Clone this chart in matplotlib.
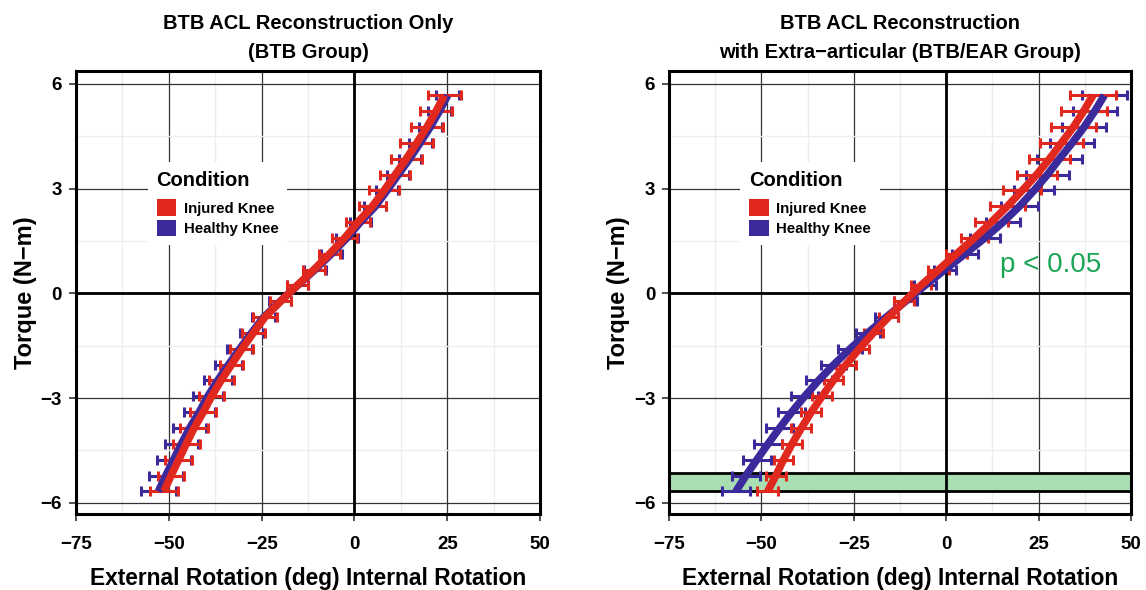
import numpy as np
import matplotlib.pyplot as plt
from matplotlib.patches import Patch

plt.rcParams['font.family'] = ['Liberation Sans', 'DejaVu Sans']
plt.rcParams['font.weight'] = 'bold'
plt.rcParams['axes.titleweight'] = 'bold'
plt.rcParams['axes.labelweight'] = 'bold'

# Torque levels (N-m), shared by both panels
torque = [5.67, 5.22, 4.76, 4.31, 3.86, 3.40, 2.95, 2.49, 2.04, 1.59, 1.13, 0.68, 0.23,
          -0.23, -0.68, -1.13, -1.59, -2.04, -2.49, -2.95, -3.40, -3.86, -4.31, -4.76, -5.22, -5.67]

# BTB group (left panel)
btb_injured = [24.2, 22.0, 19.5, 16.8, 14.0, 11.0, 8.0, 4.8, 0.9, -2.6, -6.7, -10.9, -15.4,
               -19.9, -24.1, -27.2, -30.3, -33.1, -35.9, -38.5, -40.7, -43.2, -45.3, -47.3, -49.4, -51.3]
btb_injured_err = [4.5, 4.4, 4.4, 4.4, 4.1, 4.0, 4.0, 3.6, 3.3, 3.4, 2.9, 3.0, 2.9,
                   2.9, 3.2, 3.2, 3.1, 3.2, 3.4, 3.4, 3.5, 3.7, 3.6, 3.6, 3.6, 3.7]
btb_healthy = [25.1, 22.9, 20.4, 17.7, 14.9, 11.8, 8.8, 5.6, 1.6, -2.0, -6.2, -10.6, -15.3,
               -20.0, -24.4, -27.7, -30.9, -33.9, -36.8, -39.5, -41.8, -44.4, -46.6, -48.7, -50.8, -52.8]
btb_healthy_err = [3.1, 3.1, 3.1, 3.1, 3.0, 3.0, 3.0, 3.0, 2.9, 2.9, 2.9, 2.9, 2.9,
                   3.0, 3.1, 3.2, 3.4, 3.6, 3.8, 4.0, 4.2, 4.4, 4.5, 4.6, 4.6, 4.7]

# BTB/EAR group (right panel)
ear_injured = [39.7, 37.2, 34.4, 31.2, 28.0, 24.5, 20.6, 16.5, 12.2, 7.7, 2.8, -2.0, -6.8,
               -11.3, -15.6, -19.7, -23.5, -27.1, -30.5, -33.6, -36.5, -39.2, -41.7, -44.0, -46.1, -48.3]
ear_injured_err = [6.3, 6.2, 6.1, 5.9, 5.6, 5.4, 5.1, 4.7, 4.4, 3.7, 2.9, 2.8, 2.7,
                   2.7, 2.6, 2.6, 2.6, 2.6, 2.6, 2.6, 2.7, 2.7, 2.7, 2.6, 2.7, 2.8]
ear_healthy = [42.8, 40.2, 37.3, 34.1, 30.7, 27.4, 23.8, 19.8, 15.4, 10.5, 5.1, -0.3, -5.7,
               -11.0, -16.2, -21.2, -26.0, -30.4, -34.5, -38.3, -41.8, -45.1, -48.2, -51.2, -54.2, -56.9]
ear_healthy_err = [6.0, 5.9, 5.9, 5.9, 6.0, 5.7, 5.4, 5.1, 4.6, 4.1, 3.4, 3.0, 3.0,
                   3.0, 3.1, 3.2, 3.3, 3.4, 3.5, 3.6, 3.6, 3.7, 3.7, 3.7, 3.8, 3.7]

# significant torque range (p < 0.05)
sig_band = [-5.65, -5.14]

titles = ['BTB ACL Reconstruction Only\n(BTB Group)',
          'BTB ACL Reconstruction\nwith Extra\u2212articular (BTB/EAR Group)']
xticks = [-75, -50, -25, 0, 25, 50]
yticks = [-6, -3, 0, 3, 6]

RED = '#E0281F'
BLUE = '#3A2A9C'

fig = plt.figure(figsize=(11.46, 5.90), dpi=100)
ax_l = fig.add_axes([0.0663, 0.1288, 0.405, 0.751])
ax_r = fig.add_axes([0.5838, 0.1288, 0.4031, 0.751])


def draw_panel(ax, inj, inj_err, hea, hea_err, title):
    ax.set_xlim(-75, 50)
    ax.set_ylim(-6.32, 6.37)
    ax.set_xticks(xticks)
    ax.set_yticks(yticks)
    ax.set_xticks([-62.5, -37.5, -12.5, 12.5, 37.5], minor=True)
    ax.set_yticks([-4.5, -1.5, 1.5, 4.5], minor=True)
    ax.set_xticklabels([str(t).replace('-', '\u2212') for t in xticks])
    ax.set_yticklabels([str(t).replace('-', '\u2212') for t in yticks])
    ax.grid(which='minor', color='#EDEDED', lw=1.0, zorder=0)
    ax.grid(which='major', color='#333333', lw=0.9, zorder=0.5)
    ax.tick_params(which='minor', length=0)
    ax.tick_params(which='major', length=5, width=1.2, color='#333333',
                   labelsize=13.5)
    ax.tick_params(axis='x', pad=11)
    ax.tick_params(axis='y', pad=5)
    ax.set_axisbelow(True)
    ax.axhline(0, color='black', lw=2, zorder=2)
    ax.axvline(0, color='black', lw=2, zorder=2)
    for s in ax.spines.values():
        s.set_linewidth(2.2)

    ax.errorbar(hea, torque, xerr=hea_err, fmt='none', ecolor=BLUE,
                elinewidth=2.2, capsize=3.5, capthick=2.2, zorder=3)
    ax.errorbar(inj, torque, xerr=inj_err, fmt='none', ecolor=RED,
                elinewidth=2.2, capsize=3.5, capthick=2.2, zorder=3.1)
    ax.plot(hea, torque, color=BLUE, lw=5.5, solid_capstyle='butt', zorder=4)
    ax.plot(inj, torque, color=RED, lw=5.5, solid_capstyle='butt', zorder=4.1)

    ax.set_title(title, fontsize=14.5, pad=9, linespacing=1.7)
    ax.set_xlabel('External Rotation (deg) Internal Rotation', fontsize=16.4, labelpad=10)
    ax.set_ylabel('Torque (N\u2212m)', fontsize=17, labelpad=3)

    handles = [Patch(facecolor=RED, edgecolor='none', label='Injured Knee'),
               Patch(facecolor=BLUE, edgecolor='none', label='Healthy Knee')]
    leg = ax.legend(handles=handles, title='Condition', loc='upper left',
                    bbox_to_anchor=(0.138, 0.812), frameon=True, fancybox=False,
                    facecolor='white', edgecolor='none', framealpha=1,
                    fontsize=10.8, title_fontsize=14.5, handlelength=1.3,
                    handleheight=1.3, handletextpad=0.5, labelspacing=0.25,
                    borderpad=0.6)
    leg._legend_box.align = 'left'
    leg._legend_box.sep = 7
    leg.set_zorder(5)


draw_panel(ax_l, btb_injured, btb_injured_err, btb_healthy, btb_healthy_err, titles[0])
draw_panel(ax_r, ear_injured, ear_injured_err, ear_healthy, ear_healthy_err, titles[1])

ax_r.axhspan(sig_band[0], sig_band[1], facecolor='#A9DDB2', edgecolor='black',
             lw=2, zorder=1)
ax_r.text(0.825, 0.562, 'p < 0.05', transform=ax_r.transAxes, color='#1BA554',
          fontsize=20, fontweight='normal', ha='center', va='center')

fig.savefig('out.png', dpi=100)
